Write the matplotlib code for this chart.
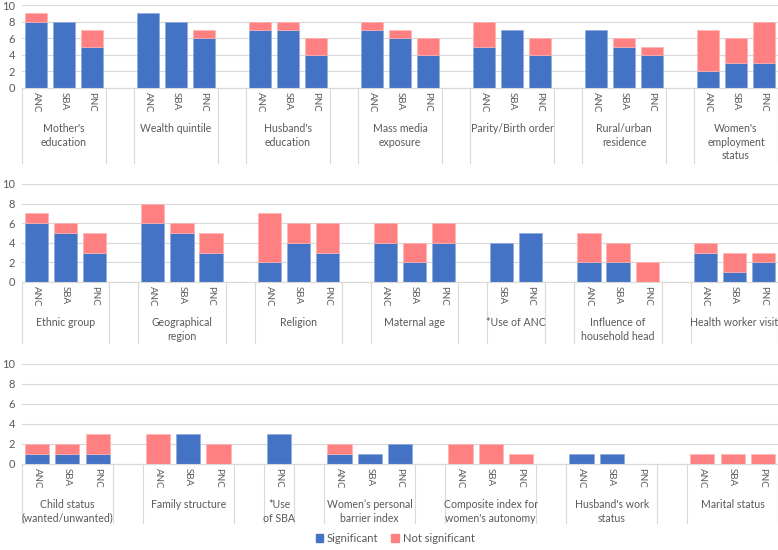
import matplotlib
matplotlib.use('Agg')
import matplotlib.pyplot as plt
from matplotlib.patches import Patch
from matplotlib.transforms import blended_transform_factory

plt.rcParams['font.family'] = ['Lato', 'DejaVu Sans']

# panel 1
p1_groups = ["Mother's\neducation", "Wealth quintile", "Husband's\neducation", "Mass media\nexposure",
             "Parity/Birth order", "Rural/urban\nresidence", "Women's\nemployment\nstatus"]
p1_subs = [["ANC", "SBA", "PNC"]] * 7
p1_sig = [[8, 8, 5], [9, 8, 6], [7, 7, 4], [7, 6, 4], [5, 7, 4], [7, 5, 4], [2, 3, 3]]
p1_nonsig = [[1, 0, 2], [0, 0, 1], [1, 1, 2], [1, 1, 2], [3, 0, 2], [0, 1, 1], [5, 3, 5]]

# panel 2
p2_groups = ["Ethnic group", "Geographical\nregion", "Religion", "Maternal age", "*Use of ANC",
             "Influence of\nhousehold head", "Health worker visit"]
p2_subs = [["ANC", "SBA", "PNC"], ["ANC", "SBA", "PNC"], ["ANC", "SBA", "PNC"], ["ANC", "SBA", "PNC"],
           ["SBA", "PNC"], ["ANC", "SBA", "PNC"], ["ANC", "SBA", "PNC"]]
p2_sig = [[6, 5, 3], [6, 5, 3], [2, 4, 3], [4, 2, 4], [4, 5], [2, 2, 0], [3, 1, 2]]
p2_nonsig = [[1, 1, 2], [2, 1, 2], [5, 2, 3], [2, 2, 2], [0, 0], [3, 2, 2], [1, 2, 1]]

# panel 3
p3_groups = ["Child status\n(wanted/unwanted)", "Family structure", "*Use\nof SBA",
             "Women\u2019s personal\nbarrier index", "Composite index for\nwomen's autonomy",
             "Husband's work\nstatus", "Marital status"]
p3_subs = [["ANC", "SBA", "PNC"], ["ANC", "SBA", "PNC"], ["PNC"], ["ANC", "SBA", "PNC"],
           ["ANC", "SBA", "PNC"], ["ANC", "SBA", "PNC"], ["ANC", "SBA", "PNC"]]
p3_sig = [[1, 1, 1], [0, 3, 0], [3], [1, 1, 2], [0, 0, 0], [1, 1, 0], [0, 0, 0]]
p3_nonsig = [[1, 1, 2], [3, 0, 2], [0], [1, 0, 0], [2, 2, 1], [0, 0, 0], [1, 1, 1]]

BLUE = '#4472C4'
PINK = '#FF8080'
GRID = '#D9D9D9'
TXT = '#595959'
W, H = 778, 550

fig = plt.figure(figsize=(W / 100, H / 100), dpi=100)


def panel(zero_px, top_px, line_px, groups, subs, sig, nonsig):
    ax = fig.add_axes([22 / W, 1 - zero_px / H, 756 / W, (zero_px - top_px) / H])
    n = sum(len(s) for s in subs) + len(subs) - 1
    ax.set_xlim(-0.5, n - 0.5)
    ax.set_ylim(0, 10)
    ax.set_yticks([0, 2, 4, 6, 8, 10])
    ax.tick_params(axis='y', length=0, labelsize=8, labelcolor=TXT, pad=5)
    ax.set_xticks([])
    for s in ['top', 'right', 'left']:
        ax.spines[s].set_visible(False)
    ax.spines['bottom'].set_color(GRID)
    ax.yaxis.grid(True, color=GRID, linewidth=0.8)
    ax.set_axisbelow(True)
    tr = blended_transform_factory(ax.transData, fig.transFigure)
    pos = 0
    edges = [-0.5]
    for g, names, sv, nv in zip(groups, subs, sig, nonsig):
        xs = list(range(pos, pos + len(names)))
        for x, s, v in zip(xs, sv, nv):
            # skip empty segments so no stray edge lines show
            if s > 0:
                ax.bar(x, s, width=0.8, color=BLUE, edgecolor='#8FAADC', linewidth=0.5)
            if v > 0:
                ax.bar(x, v, width=0.8, bottom=s, color=PINK, edgecolor='#FFB3B3', linewidth=0.5)
        for x, nm in zip(xs, names):
            ax.text(x, 1 - (zero_px + 4) / H, nm, rotation=-90, ha='center', va='top',
                    fontsize=7, color=TXT, transform=tr)
        ax.text((xs[0] + xs[-1]) / 2, 1 - (zero_px + 35) / H, g, ha='center', va='top',
                fontsize=7.6, color=TXT, transform=tr, linespacing=1.3)
        edges.append(xs[-1] + 0.5)
        pos = xs[-1] + 2
        if pos - 1 < n:
            edges.append(pos - 0.5)
    for e in edges:
        ax.plot([e, e], [1 - zero_px / H, 1 - line_px / H], color=GRID, linewidth=0.8,
                transform=tr, clip_on=False)
    return ax


panel(88, 5, 163, p1_groups, p1_subs, p1_sig, p1_nonsig)
panel(282, 184, 343, p2_groups, p2_subs, p2_sig, p2_nonsig)
panel(464, 364, 523, p3_groups, p3_subs, p3_sig, p3_nonsig)

handles = [Patch(color=BLUE, label='Significant'), Patch(color=PINK, label='Not significant')]
leg = fig.legend(handles=handles, loc='center', bbox_to_anchor=(395 / W, 1 - 538 / H), ncol=2,
                 frameon=False, fontsize=8, handlelength=0.7, handleheight=0.7,
                 handletextpad=0.3, columnspacing=1.2)
for t in leg.get_texts():
    t.set_color(TXT)

fig.savefig('out.png', dpi=100)
